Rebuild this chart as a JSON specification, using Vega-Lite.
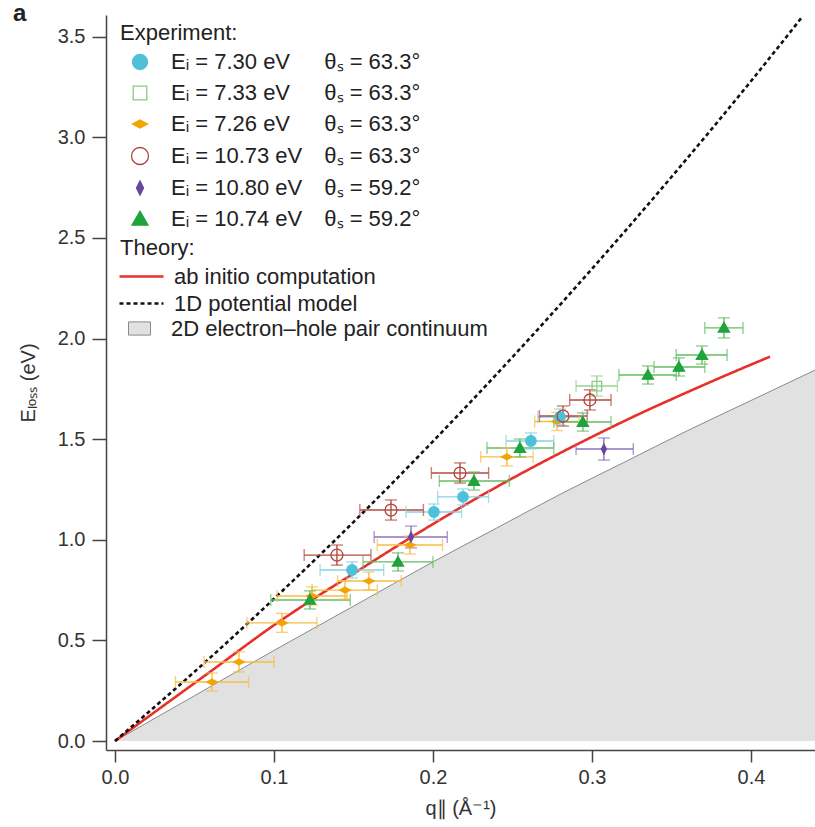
{
  "$schema": "https://vega.github.io/schema/vega-lite/v6.json",
  "autosize": {"type": "none"},
  "padding": {"left": 106, "top": 15, "right": 0, "bottom": 77},
  "width": 709,
  "height": 735,
  "background": "white",
  "config": {
    "font": "Liberation Sans",
    "view": {"stroke": null},
    "legend": {"padding": 0, "titleFontWeight": "normal", "titleColor": "#222", "labelColor": "#222", "labelFont": "Liberation Sans", "titleFont": "Liberation Sans", "labelLimit": 500},
    "axis": {"grid": false, "domainColor": "#444", "domainWidth": 1.5, "tickColor": "#444", "tickWidth": 1.5,
      "labelFontSize": 20, "labelColor": "#333", "labelFont": "Liberation Sans",
      "titleFontSize": 20, "titleFontWeight": "normal", "titleColor": "#333", "titleFont": "Liberation Sans"}
  },
  "title": {"text": "a", "anchor": "start", "frame": "group", "orient": "top", "fontSize": 24, "fontWeight": "bold", "baseline": "alphabetic", "offset": -30, "dx": -93, "color": "#222"},
  "datasets": {
    "cont": [
      {"q": 0, "E": 0}, {"q": 0.05, "E": 0.225}, {"q": 0.1, "E": 0.45}, {"q": 0.15, "E": 0.67},
      {"q": 0.2, "E": 0.89}, {"q": 0.24, "E": 1.058}, {"q": 0.28, "E": 1.226}, {"q": 0.32, "E": 1.384},
      {"q": 0.36, "E": 1.542}, {"q": 0.4, "E": 1.692}, {"q": 0.4403, "E": 1.843}
    ],
    "theory": [
      {"model": "ab initio computation", "q": 0, "E": 0},
      {"model": "ab initio computation", "q": 0.0283, "E": 0.163},
      {"model": "ab initio computation", "q": 0.06, "E": 0.345},
      {"model": "ab initio computation", "q": 0.1019, "E": 0.586},
      {"model": "ab initio computation", "q": 0.1226, "E": 0.695},
      {"model": "ab initio computation", "q": 0.15, "E": 0.832},
      {"model": "ab initio computation", "q": 0.1918, "E": 1.039},
      {"model": "ab initio computation", "q": 0.2252, "E": 1.196},
      {"model": "ab initio computation", "q": 0.2799, "E": 1.431},
      {"model": "ab initio computation", "q": 0.305, "E": 1.531},
      {"model": "ab initio computation", "q": 0.3302, "E": 1.627},
      {"model": "ab initio computation", "q": 0.357, "E": 1.723},
      {"model": "ab initio computation", "q": 0.385, "E": 1.82},
      {"model": "ab initio computation", "q": 0.412, "E": 1.91},
      {"model": "1D potential model", "q": 0, "E": 0},
      {"model": "1D potential model", "q": 0.05, "E": 0.344},
      {"model": "1D potential model", "q": 0.1, "E": 0.707},
      {"model": "1D potential model", "q": 0.15, "E": 1.088},
      {"model": "1D potential model", "q": 0.2, "E": 1.489},
      {"model": "1D potential model", "q": 0.25, "E": 1.908},
      {"model": "1D potential model", "q": 0.3, "E": 2.346},
      {"model": "1D potential model", "q": 0.35, "E": 2.803},
      {"model": "1D potential model", "q": 0.4, "E": 3.279},
      {"model": "1D potential model", "q": 0.4327, "E": 3.603}
    ],
    "pts": [
      {"s": "c3", "q": 0.0610, "E": 0.293, "qlo": 0.038, "qhi": 0.084, "Elo": 0.248, "Ehi": 0.338},
      {"s": "c3", "q": 0.0780, "E": 0.393, "qlo": 0.056, "qhi": 0.100, "Elo": 0.343, "Ehi": 0.443},
      {"s": "c3", "q": 0.1050, "E": 0.587, "qlo": 0.083, "qhi": 0.127, "Elo": 0.540, "Ehi": 0.634},
      {"s": "c3", "q": 0.1239, "E": 0.721, "qlo": 0.102, "qhi": 0.146, "Elo": 0.676, "Ehi": 0.766},
      {"s": "c3", "q": 0.1447, "E": 0.750, "qlo": 0.124, "qhi": 0.165, "Elo": 0.705, "Ehi": 0.795},
      {"s": "c3", "q": 0.1597, "E": 0.795, "qlo": 0.140, "qhi": 0.180, "Elo": 0.750, "Ehi": 0.840},
      {"s": "c3", "q": 0.1855, "E": 0.974, "qlo": 0.165, "qhi": 0.206, "Elo": 0.929, "Ehi": 1.019},
      {"s": "c3", "q": 0.2465, "E": 1.412, "qlo": 0.230, "qhi": 0.263, "Elo": 1.367, "Ehi": 1.457},
      {"s": "c3", "q": 0.2780, "E": 1.588, "qlo": 0.264, "qhi": 0.292, "Elo": 1.543, "Ehi": 1.633},
      {"s": "c1", "q": 0.1491, "E": 0.850, "qlo": 0.129, "qhi": 0.169, "Elo": 0.810, "Ehi": 0.890},
      {"s": "c1", "q": 0.2006, "E": 1.138, "qlo": 0.183, "qhi": 0.218, "Elo": 1.098, "Ehi": 1.178},
      {"s": "c1", "q": 0.2189, "E": 1.213, "qlo": 0.203, "qhi": 0.235, "Elo": 1.173, "Ehi": 1.253},
      {"s": "c1", "q": 0.2616, "E": 1.491, "qlo": 0.246, "qhi": 0.276, "Elo": 1.451, "Ehi": 1.531},
      {"s": "c1", "q": 0.2799, "E": 1.610, "qlo": 0.266, "qhi": 0.294, "Elo": 1.570, "Ehi": 1.650},
      {"s": "c4", "q": 0.1396, "E": 0.924, "qlo": 0.119, "qhi": 0.161, "Elo": 0.874, "Ehi": 0.974},
      {"s": "c4", "q": 0.1736, "E": 1.148, "qlo": 0.154, "qhi": 0.194, "Elo": 1.098, "Ehi": 1.198},
      {"s": "c4", "q": 0.2170, "E": 1.332, "qlo": 0.199, "qhi": 0.235, "Elo": 1.282, "Ehi": 1.382},
      {"s": "c4", "q": 0.2818, "E": 1.615, "qlo": 0.267, "qhi": 0.297, "Elo": 1.565, "Ehi": 1.665},
      {"s": "c4", "q": 0.2987, "E": 1.695, "qlo": 0.286, "qhi": 0.312, "Elo": 1.645, "Ehi": 1.745},
      {"s": "c5", "q": 0.1862, "E": 1.014, "qlo": 0.163, "qhi": 0.209, "Elo": 0.960, "Ehi": 1.068},
      {"s": "c5", "q": 0.3075, "E": 1.451, "qlo": 0.290, "qhi": 0.326, "Elo": 1.396, "Ehi": 1.506},
      {"s": "c6", "q": 0.1226, "E": 0.701, "qlo": 0.098, "qhi": 0.148, "Elo": 0.656, "Ehi": 0.746},
      {"s": "c6", "q": 0.1780, "E": 0.890, "qlo": 0.156, "qhi": 0.200, "Elo": 0.845, "Ehi": 0.935},
      {"s": "c6", "q": 0.2258, "E": 1.292, "qlo": 0.204, "qhi": 0.248, "Elo": 1.247, "Ehi": 1.337},
      {"s": "c6", "q": 0.2547, "E": 1.456, "qlo": 0.234, "qhi": 0.276, "Elo": 1.411, "Ehi": 1.501},
      {"s": "c6", "q": 0.2943, "E": 1.585, "qlo": 0.276, "qhi": 0.312, "Elo": 1.540, "Ehi": 1.630},
      {"s": "c6", "q": 0.3352, "E": 1.819, "qlo": 0.317, "qhi": 0.353, "Elo": 1.774, "Ehi": 1.864},
      {"s": "c6", "q": 0.3547, "E": 1.859, "qlo": 0.339, "qhi": 0.371, "Elo": 1.814, "Ehi": 1.904},
      {"s": "c6", "q": 0.3692, "E": 1.918, "qlo": 0.353, "qhi": 0.385, "Elo": 1.873, "Ehi": 1.963},
      {"s": "c6", "q": 0.3830, "E": 2.053, "qlo": 0.371, "qhi": 0.395, "Elo": 2.003, "Ehi": 2.103},
      {"s": "c2", "q": 0.3031, "E": 1.764, "qlo": 0.290, "qhi": 0.316, "Elo": 1.714, "Ehi": 1.814}
    ]
  },
  "resolve": {"scale": {"fill": "independent", "stroke": "independent", "shape": "independent", "strokeDash": "independent"}},
  "layer": [
    {
      "data": {"name": "cont"},
      "mark": {"type": "area", "clip": true, "interpolate": "monotone"},
      "encoding": {
        "x": {"field": "q", "type": "quantitative", "scale": {"domain": [-0.00566, 0.4403], "nice": false, "zero": false},
          "axis": {"values": [0, 0.1, 0.2, 0.3, 0.4], "format": ".1f", "title": "q\u2225 (\u00c5\u207b\u00b9)", "tickSize": 12, "labelPadding": 5, "titlePadding": 11}},
        "y": {"field": "E", "type": "quantitative", "scale": {"domain": [-0.0447, 3.608], "nice": false, "zero": false},
          "axis": {"values": [0, 0.5, 1, 1.5, 2, 2.5, 3, 3.5], "format": ".1f", "title": "E\u2097\u2092\u209b\u209b (eV)", "tickSize": 14, "labelPadding": 7, "titlePadding": 19}},
        "y2": {"datum": 0},
        "fill": {"datum": "2D electron\u2013hole pair continuum", "type": "nominal",
          "scale": {"domain": ["2D electron\u2013hole pair continuum"], "range": ["#e1e1e1"]},
          "legend": {"orient": "none", "legendX": 14, "legendY": 302, "title": null, "symbolType": "M-1,-0.6H1V0.6H-1Z",
            "symbolSize": 484, "symbolOffset": 8, "labelOffset": 20, "labelFontSize": 22, "symbolStrokeColor": "#8a8a8a",
            "symbolStrokeWidth": 1, "symbolOpacity": 1}}
      }
    },
    {
      "data": {"name": "cont"},
      "mark": {"type": "line", "clip": true, "color": "#8a8a8a", "strokeWidth": 1, "interpolate": "monotone"},
      "encoding": {
        "x": {"field": "q", "type": "quantitative", "scale": {"domain": [-0.00566, 0.4403], "nice": false, "zero": false}},
        "y": {"field": "E", "type": "quantitative", "scale": {"domain": [-0.0447, 3.608], "nice": false, "zero": false}}
      }
    },
    {
      "data": {"name": "theory"},
      "mark": {"type": "line", "clip": true, "strokeWidth": 2.6, "interpolate": "monotone"},
      "encoding": {
        "x": {"field": "q", "type": "quantitative", "scale": {"domain": [-0.00566, 0.4403], "nice": false, "zero": false}},
        "y": {"field": "E", "type": "quantitative", "scale": {"domain": [-0.0447, 3.608], "nice": false, "zero": false}},
        "stroke": {"field": "model", "type": "nominal", "scale": {"domain": ["ab initio computation", "1D potential model"], "range": ["#e8302a", "#111111"]},
          "legend": {"orient": "none", "legendX": 14, "legendY": 223, "title": "Theory:", "titleFontSize": 22, "titlePadding": 5,
            "symbolType": "M-2.2,0H2.2", "symbolSize": 400, "symbolStrokeWidth": 2.5, "symbolOffset": 10, "labelOffset": 21, "labelFontSize": 22, "rowPadding": 4}},
        "strokeDash": {"field": "model", "type": "nominal", "scale": {"domain": ["ab initio computation", "1D potential model"], "range": [[1, 0], [4, 3]]},
          "legend": {"orient": "none", "legendX": 14, "legendY": 223, "title": "Theory:", "titleFontSize": 22, "titlePadding": 5,
            "symbolType": "M-2.2,0H2.2", "symbolSize": 400, "symbolStrokeWidth": 2.5, "symbolOffset": 10, "labelOffset": 21, "labelFontSize": 22, "rowPadding": 4}}
      }
    },
    {
      "data": {"name": "pts"},
      "mark": {"type": "rule", "strokeWidth": 1.4},
      "encoding": {
        "x": {"field": "qlo", "type": "quantitative", "scale": {"domain": [-0.00566, 0.4403], "nice": false, "zero": false}},
        "x2": {"field": "qhi"},
        "y": {"field": "E", "type": "quantitative", "scale": {"domain": [-0.0447, 3.608], "nice": false, "zero": false}},
        "color": {"field": "s", "type": "nominal", "scale": {"domain": ["c1", "c2", "c3", "c4", "c5", "c6"], "range": ["#86d2e2", "#98d38f", "#f7be45", "#b54a3f", "#8b73bc", "#62bc62"]}, "legend": null}
      }
    },
    {
      "data": {"name": "pts"},
      "mark": {"type": "rule", "strokeWidth": 1.4},
      "encoding": {
        "x": {"field": "q", "type": "quantitative", "scale": {"domain": [-0.00566, 0.4403], "nice": false, "zero": false}},
        "y": {"field": "Elo", "type": "quantitative", "scale": {"domain": [-0.0447, 3.608], "nice": false, "zero": false}},
        "y2": {"field": "Ehi"},
        "color": {"field": "s", "type": "nominal", "scale": {"domain": ["c1", "c2", "c3", "c4", "c5", "c6"], "range": ["#86d2e2", "#98d38f", "#f7be45", "#b54a3f", "#8b73bc", "#62bc62"]}, "legend": null}
      }
    },
    {
      "data": {"name": "pts"},
      "mark": {"type": "tick", "orient": "vertical", "size": 12, "thickness": 1.4},
      "encoding": {
        "x": {"field": "qlo", "type": "quantitative", "scale": {"domain": [-0.00566, 0.4403], "nice": false, "zero": false}},
        "y": {"field": "E", "type": "quantitative", "scale": {"domain": [-0.0447, 3.608], "nice": false, "zero": false}},
        "color": {"field": "s", "type": "nominal", "scale": {"domain": ["c1", "c2", "c3", "c4", "c5", "c6"], "range": ["#86d2e2", "#98d38f", "#f7be45", "#b54a3f", "#8b73bc", "#62bc62"]}, "legend": null}
      }
    },
    {
      "data": {"name": "pts"},
      "mark": {"type": "tick", "orient": "vertical", "size": 12, "thickness": 1.4},
      "encoding": {
        "x": {"field": "qhi", "type": "quantitative", "scale": {"domain": [-0.00566, 0.4403], "nice": false, "zero": false}},
        "y": {"field": "E", "type": "quantitative", "scale": {"domain": [-0.0447, 3.608], "nice": false, "zero": false}},
        "color": {"field": "s", "type": "nominal", "scale": {"domain": ["c1", "c2", "c3", "c4", "c5", "c6"], "range": ["#86d2e2", "#98d38f", "#f7be45", "#b54a3f", "#8b73bc", "#62bc62"]}, "legend": null}
      }
    },
    {
      "data": {"name": "pts"},
      "mark": {"type": "tick", "orient": "horizontal", "size": 12, "thickness": 1.4},
      "encoding": {
        "x": {"field": "q", "type": "quantitative", "scale": {"domain": [-0.00566, 0.4403], "nice": false, "zero": false}},
        "y": {"field": "Elo", "type": "quantitative", "scale": {"domain": [-0.0447, 3.608], "nice": false, "zero": false}},
        "color": {"field": "s", "type": "nominal", "scale": {"domain": ["c1", "c2", "c3", "c4", "c5", "c6"], "range": ["#86d2e2", "#98d38f", "#f7be45", "#b54a3f", "#8b73bc", "#62bc62"]}, "legend": null}
      }
    },
    {
      "data": {"name": "pts"},
      "mark": {"type": "tick", "orient": "horizontal", "size": 12, "thickness": 1.4},
      "encoding": {
        "x": {"field": "q", "type": "quantitative", "scale": {"domain": [-0.00566, 0.4403], "nice": false, "zero": false}},
        "y": {"field": "Ehi", "type": "quantitative", "scale": {"domain": [-0.0447, 3.608], "nice": false, "zero": false}},
        "color": {"field": "s", "type": "nominal", "scale": {"domain": ["c1", "c2", "c3", "c4", "c5", "c6"], "range": ["#86d2e2", "#98d38f", "#f7be45", "#b54a3f", "#8b73bc", "#62bc62"]}, "legend": null}
      }
    },
    {
      "data": {"name": "pts"},
      "mark": {"type": "point", "size": 196, "opacity": 1, "strokeWidth": 1.3},
      "encoding": {
        "x": {"field": "q", "type": "quantitative", "scale": {"domain": [-0.00566, 0.4403], "nice": false, "zero": false}},
        "y": {"field": "E", "type": "quantitative", "scale": {"domain": [-0.0447, 3.608], "nice": false, "zero": false}},
        "shape": {"field": "s", "type": "nominal",
          "scale": {"domain": ["c1", "c2", "c3", "c4", "c5", "c6"], "range": [
            "M-0.75,0A0.75,0.75,0,1,1,0.75,0A0.75,0.75,0,1,1,-0.75,0Z",
            "M-0.68,-0.68H0.68V0.68H-0.68Z",
            "M-0.75,0L0,-0.4L0.75,0L0,0.4Z",
            "M-0.85,0A0.85,0.85,0,1,1,0.85,0A0.85,0.85,0,1,1,-0.85,0Z",
            "M-0.35,0L0,-0.7L0.35,0L0,0.7Z",
            "M0,-0.78L0.8,0.6L-0.8,0.6Z"]},
          "legend": {"orient": "none", "legendX": 14, "legendY": 8, "title": "Experiment:", "titleFontSize": 22, "titlePadding": 6,
            "symbolSize": 400, "symbolOffset": 9, "labelOffset": 20, "labelFontSize": 22, "rowPadding": 9, "symbolStrokeWidth": 1.3,
            "labelExpr": "{'c1':'E\u1d62 = 7.30 eV\u2007\u2003\u03b8\u209b = 63.3\u00b0','c2':'E\u1d62 = 7.33 eV\u2007\u2003\u03b8\u209b = 63.3\u00b0','c3':'E\u1d62 = 7.26 eV\u2007\u2003\u03b8\u209b = 63.3\u00b0','c4':'E\u1d62 = 10.73 eV\u2003\u03b8\u209b = 63.3\u00b0','c5':'E\u1d62 = 10.80 eV\u2003\u03b8\u209b = 59.2\u00b0','c6':'E\u1d62 = 10.74 eV\u2003\u03b8\u209b = 59.2\u00b0'}[datum.label]"}},
        "fill": {"field": "s", "type": "nominal",
          "scale": {"domain": ["c1", "c2", "c3", "c4", "c5", "c6"], "range": ["#4ec1d9", "transparent", "#f5a300", "transparent", "#6747a0", "#1fa33a"]},
          "legend": {"orient": "none", "legendX": 14, "legendY": 8, "title": "Experiment:", "titleFontSize": 22, "titlePadding": 6,
            "symbolSize": 400, "symbolOffset": 9, "labelOffset": 20, "labelFontSize": 22, "rowPadding": 9, "symbolStrokeWidth": 1.3,
            "labelExpr": "{'c1':'E\u1d62 = 7.30 eV\u2007\u2003\u03b8\u209b = 63.3\u00b0','c2':'E\u1d62 = 7.33 eV\u2007\u2003\u03b8\u209b = 63.3\u00b0','c3':'E\u1d62 = 7.26 eV\u2007\u2003\u03b8\u209b = 63.3\u00b0','c4':'E\u1d62 = 10.73 eV\u2003\u03b8\u209b = 63.3\u00b0','c5':'E\u1d62 = 10.80 eV\u2003\u03b8\u209b = 59.2\u00b0','c6':'E\u1d62 = 10.74 eV\u2003\u03b8\u209b = 59.2\u00b0'}[datum.label]"}},
        "stroke": {"field": "s", "type": "nominal",
          "scale": {"domain": ["c1", "c2", "c3", "c4", "c5", "c6"], "range": ["#4ec1d9", "#8acb82", "#f5a300", "#b2463c", "#6747a0", "#1fa33a"]},
          "legend": {"orient": "none", "legendX": 14, "legendY": 8, "title": "Experiment:", "titleFontSize": 22, "titlePadding": 6,
            "symbolSize": 400, "symbolOffset": 9, "labelOffset": 20, "labelFontSize": 22, "rowPadding": 9, "symbolStrokeWidth": 1.3,
            "labelExpr": "{'c1':'E\u1d62 = 7.30 eV\u2007\u2003\u03b8\u209b = 63.3\u00b0','c2':'E\u1d62 = 7.33 eV\u2007\u2003\u03b8\u209b = 63.3\u00b0','c3':'E\u1d62 = 7.26 eV\u2007\u2003\u03b8\u209b = 63.3\u00b0','c4':'E\u1d62 = 10.73 eV\u2003\u03b8\u209b = 63.3\u00b0','c5':'E\u1d62 = 10.80 eV\u2003\u03b8\u209b = 59.2\u00b0','c6':'E\u1d62 = 10.74 eV\u2003\u03b8\u209b = 59.2\u00b0'}[datum.label]"}}
      }
    }
  ]
}
